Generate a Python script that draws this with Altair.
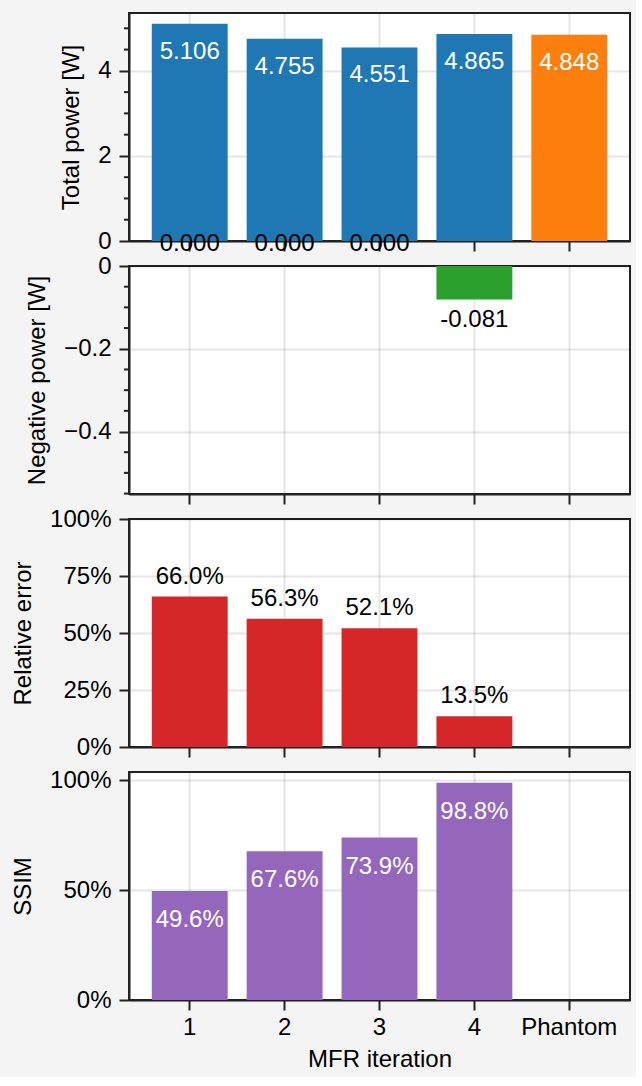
import altair as alt
import pandas as pd

# ---- data ----
categories = ["1", "2", "3", "4", "Phantom"]
kinds = ["MFR", "MFR", "MFR", "MFR", "Phantom"]
total_power = [5.106, 4.755, 4.551, 4.865, 4.848]
negative_power = [0.0, 0.0, 0.0, -0.081, None]
relative_error = [0.660, 0.563, 0.521, 0.135, None]
ssim = [0.496, 0.676, 0.739, 0.988, None]

# axis tick values
power_ticks = [0, 2, 4]
power_minor = [0.5, 1, 1.5, 2.5, 3, 3.5, 4.5, 5]
neg_ticks = [0, -0.2, -0.4]
neg_minor = [-0.05, -0.1, -0.15, -0.25, -0.3, -0.35, -0.45, -0.5, -0.55]
err_ticks = [0, 0.25, 0.5, 0.75, 1.0]
ssim_ticks = [0, 0.5, 1.0]

power_domain = [0, 5.36]
neg_domain = [-0.551, 0]
err_domain = [0, 1]
ssim_domain = [0, 1.037]

BLUE, ORANGE, GREEN, RED, PURPLE = "#1f77b4", "#ff7f0e", "#2ca02c", "#d62728", "#9467bd"
FONT = "Liberation Sans"
FS = 24
W, H = 501, 228

df = pd.DataFrame({
    "cat": categories,
    "kind": kinds,
    "total": total_power,
    "neg": negative_power,
    "err": relative_error,
    "ssim": ssim,
})
df["total_label"] = [f"{v:.3f}" for v in total_power]


def xenc(last=False):
    axis_kw = dict(bandPosition=0.5, grid=True, ticks=True, labelAngle=0, labels=last)
    kw = dict(sort=categories,
              scale=alt.Scale(domain=categories, paddingInner=0.2, paddingOuter=0.24),
              axis=alt.Axis(**axis_kw))
    if last:
        kw["title"] = "MFR iteration"
    else:
        kw["title"] = None
    return alt.X("cat:N", **kw)


def minor_layer(values, field, scale, title, ticks):
    return alt.Chart(pd.DataFrame({field: values})).mark_rule(
        color="#222", strokeWidth=2
    ).encode(
        y=alt.Y(f"{field}:Q", scale=scale, title=title,
                axis=alt.Axis(values=ticks, format="~g")),
        x=alt.value(-5), x2=alt.value(0),
    )


# ---- panel 1: total power ----
s1 = alt.Scale(domain=power_domain, nice=False, zero=False)
p1_bars = alt.Chart(df).mark_bar().encode(
    x=xenc(),
    y=alt.Y("total:Q", scale=s1, title="Total power [W]",
            axis=alt.Axis(values=power_ticks, format="~g")),
    color=alt.Color("kind:N", scale=alt.Scale(domain=["MFR", "Phantom"], range=[BLUE, ORANGE]), legend=None),
)
p1_text = alt.Chart(df).mark_text(color="white", fontSize=FS, dy=35, baseline="alphabetic", font=FONT).encode(
    x=xenc(), y=alt.Y("total:Q", scale=s1, title="Total power [W]",
                      axis=alt.Axis(values=power_ticks, format="~g")),
    text="total_label:N"
)
p1 = alt.layer(p1_bars, p1_text,
               minor_layer(power_minor, "total", s1, "Total power [W]", power_ticks)
               ).properties(width=W, height=H)

# ---- panel 2: negative power ----
d2 = df[df["neg"].notna()].copy()
d2["neg_label"] = [f"{v:.3f}" for v in d2["neg"]]
s2 = alt.Scale(domain=neg_domain, nice=False, zero=False)
ax2 = alt.Axis(values=neg_ticks, format="~g")
p2_bars = alt.Chart(d2).mark_bar(color=GREEN).encode(
    x=xenc(),
    y=alt.Y("neg:Q", scale=s2, title="Negative power [W]", axis=ax2),
    y2=alt.datum(0),
)
p2_text_up = alt.Chart(d2[d2["neg"] >= 0]).mark_text(color="black", fontSize=FS, dy=-15, baseline="alphabetic", font=FONT).encode(
    x=xenc(), y=alt.Y("neg:Q", scale=s2, title="Negative power [W]", axis=ax2), text="neg_label:N"
)
p2_text_dn = alt.Chart(d2[d2["neg"] < 0]).mark_text(color="black", fontSize=FS, dy=27, baseline="alphabetic", font=FONT).encode(
    x=xenc(), y=alt.Y("neg:Q", scale=s2, title="Negative power [W]", axis=ax2), text="neg_label:N"
)
p2 = alt.layer(p2_bars, p2_text_up, p2_text_dn,
               minor_layer(neg_minor, "neg", s2, "Negative power [W]", neg_ticks)
               ).properties(width=W, height=H)

# ---- panel 3: relative error ----
d3 = df[df["err"].notna()].copy()
d3["err_label"] = [f"{v*100:.1f}%" for v in d3["err"]]
s3 = alt.Scale(domain=err_domain, nice=False)
p3_bars = alt.Chart(d3).mark_bar(color=RED).encode(
    x=xenc(),
    y=alt.Y("err:Q", scale=s3, title="Relative error",
            axis=alt.Axis(values=err_ticks, format=".0%")),
)
p3_text = alt.Chart(d3).mark_text(color="black", fontSize=FS, dy=-13, baseline="alphabetic", font=FONT).encode(
    x=xenc(), y=alt.Y("err:Q", scale=s3), text="err_label:N"
)
p3 = alt.layer(p3_bars, p3_text).properties(width=W, height=H)

# ---- panel 4: SSIM ----
d4 = df[df["ssim"].notna()].copy()
d4["ssim_label"] = [f"{v*100:.1f}%" for v in d4["ssim"]]
s4 = alt.Scale(domain=ssim_domain, nice=False)
p4_bars = alt.Chart(d4).mark_bar(color=PURPLE).encode(
    x=xenc(True),
    y=alt.Y("ssim:Q", scale=s4, title="SSIM",
            axis=alt.Axis(values=ssim_ticks, format=".0%")),
)
p4_text = alt.Chart(d4).mark_text(color="white", fontSize=FS, dy=36, baseline="alphabetic", font=FONT).encode(
    x=xenc(True), y=alt.Y("ssim:Q", scale=s4), text="ssim_label:N"
)
p4 = alt.layer(p4_bars, p4_text).properties(width=W, height=H)

chart = alt.vconcat(p1, p2, p3, p4, spacing=25, bounds="flush").properties(
    background="#f4f4f4",
    padding={"left": 10, "top": 12, "right": 5, "bottom": 5},
).configure(font=FONT).configure_view(
    fill="white", stroke="#222", strokeWidth=2
).configure_axis(
    labelFont=FONT, titleFont=FONT, labelFontSize=FS, titleFontSize=FS,
    labelColor="black", titleColor="black", titleFontWeight="normal",
    tickSize=10, tickWidth=2, tickColor="#222",
    domainColor="#222", domainWidth=2,
    gridColor="black", gridOpacity=0.1, gridWidth=2,
    labelPadding=8, zindex=1,
).configure_axisX(titlePadding=8, labelPadding=5).configure_axisY(titlePadding=14)

chart.save("out.html", embed_options={"renderer": "svg", "actions": False})
